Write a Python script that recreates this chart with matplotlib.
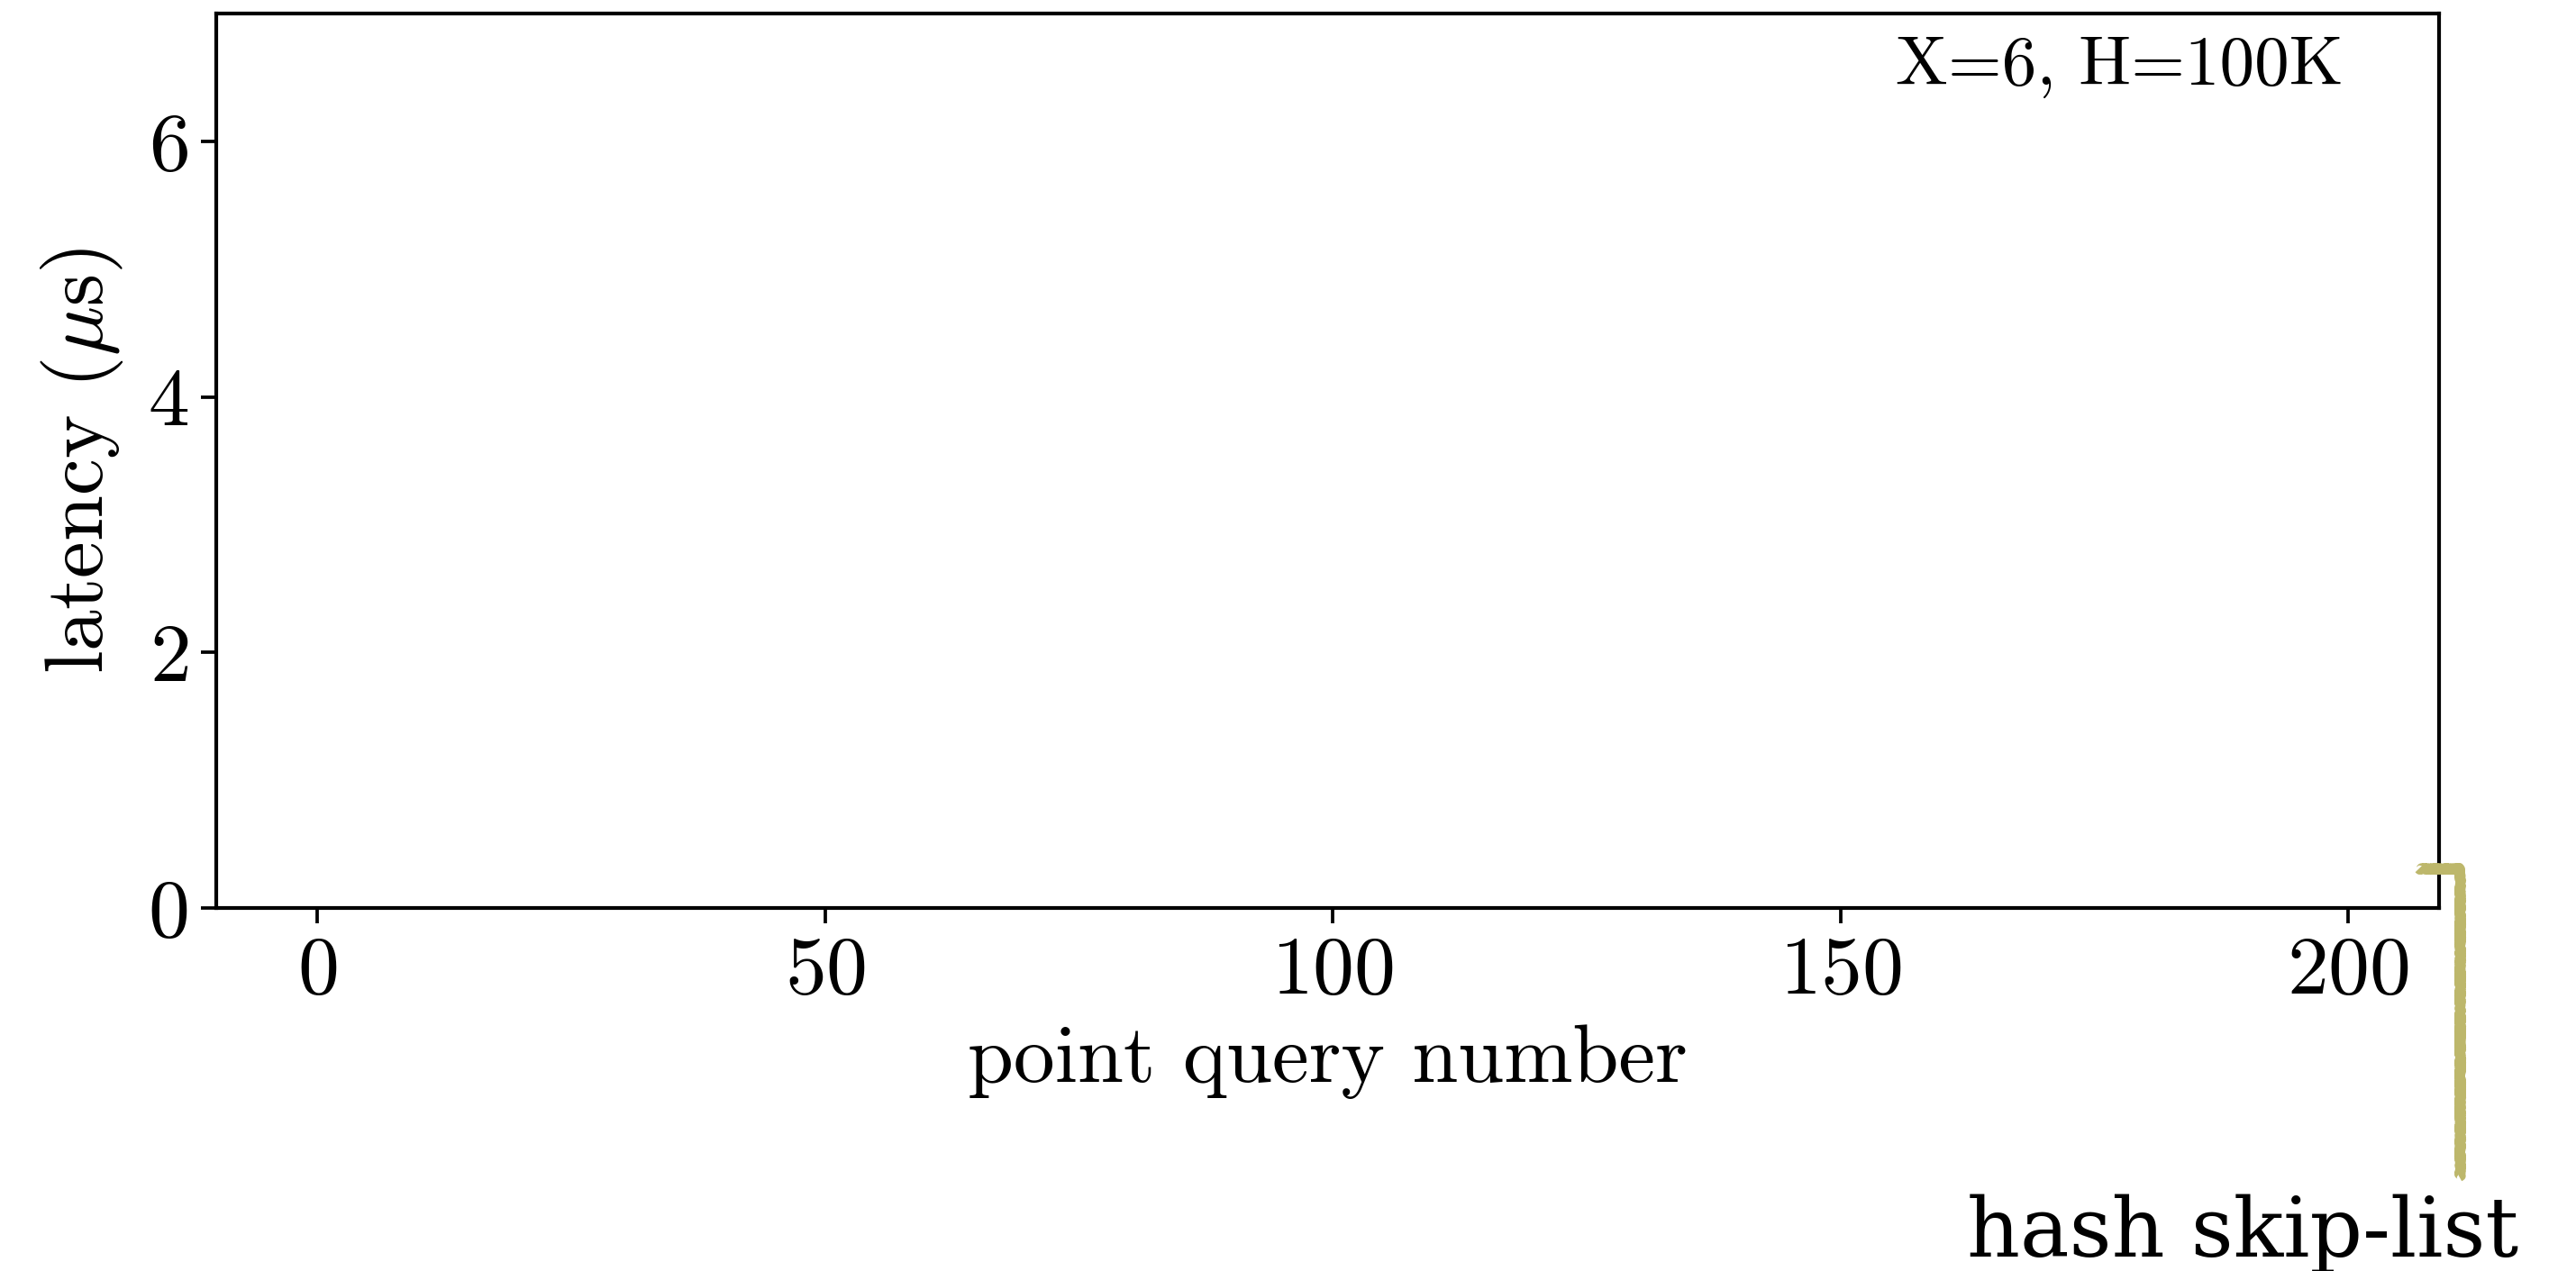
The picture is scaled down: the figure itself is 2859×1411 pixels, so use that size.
import os
import matplotlib
matplotlib.use("Agg")
import matplotlib.pyplot as plt
from matplotlib import font_manager as fm

# register the Computer Modern roman face bundled with matplotlib
_cm_path = os.path.join(matplotlib.get_data_path(), "fonts", "ttf", "cmr10.ttf")
if os.path.exists(_cm_path):
    fm.fontManager.addfont(_cm_path)

plt.rcParams["font.family"] = "serif"
plt.rcParams["font.serif"] = ["cmr10", "DejaVu Serif"]
plt.rcParams["mathtext.fontset"] = "cm"
plt.rcParams["axes.formatter.use_mathtext"] = True

# query indices and axis settings
query_numbers = list(range(200))
x_ticks = [0, 50, 100, 150, 200]
y_ticks = [0, 2, 4, 6]
y_limits = (0, 7)

# hash skip-list trace (falls outside the plotted latency window)
skiplist_x = [206.9, 211.0, 211.0]
skiplist_y = [0.31, 0.31, -2.10]

fig = plt.figure(figsize=(2859 / 300, 1411 / 300), dpi=300)
ax = fig.add_axes([240 / 2859, 1 - 1008 / 1411, (2707 - 240) / 2859, (1008 - 15) / 1411])

ax.set_xlim(query_numbers[0] - 0.05 * (query_numbers[-1] - query_numbers[0]),
            query_numbers[-1] + 0.05 * (query_numbers[-1] - query_numbers[0]))
ax.set_ylim(*y_limits)
ax.set_xticks(x_ticks)
ax.set_yticks(y_ticks)

line, = ax.plot(skiplist_x, skiplist_y, color="darkkhaki", lw=2.6,
                solid_joinstyle="round", solid_capstyle="butt",
                clip_on=False, zorder=5)
line.set_sketch_params(scale=1.2, length=3, randomness=2)

ax.tick_params(labelsize=22, length=4, width=0.9)
for s in ax.spines.values():
    s.set_linewidth(1.0)

ax.set_xlabel("point query number", fontsize=22, labelpad=4)
ax.set_ylabel(r"latency ($\mu$s)", fontsize=22, labelpad=6)

ax.text(0.957, 0.975, "X=6, H=100K", transform=ax.transAxes,
        ha="right", va="top", fontsize=18.5)

fig.text(2795 / 2859, 1 - 1395 / 1411, "hash skip-list", ha="right",
         va="baseline", fontsize=22, family="DejaVu Serif")

fig.savefig("out.png", dpi=300)
